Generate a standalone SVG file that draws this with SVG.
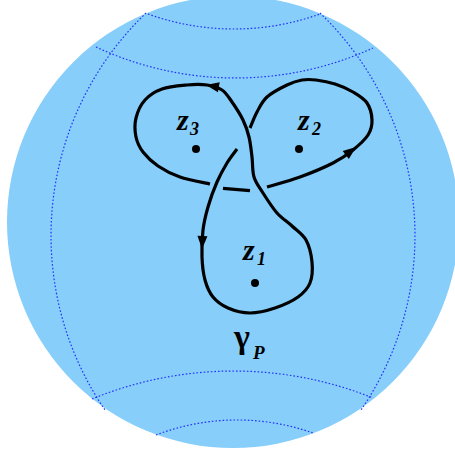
<svg xmlns="http://www.w3.org/2000/svg" width="455" height="455" viewBox="0 0 455 455">
<style>
.grid{fill:none;stroke:#2233ff;stroke-width:1.2;stroke-dasharray:1.6 2}
.curve{fill:none;stroke:#000;stroke-width:3.2;stroke-linecap:butt;stroke-linejoin:round}
.lbl{font-family:"Liberation Serif","Times New Roman",serif;font-style:italic;font-weight:bold;fill:#000}
.dot{fill:#000}
</style>
<defs>
<path id="ah" d="M0,0 L-13,-5 L-13,5 Z" fill="#000"/>
</defs>
<g id="sphere">
<circle cx="233" cy="222" r="226" fill="#87CEFA"/>
<path class="grid" d="M320,13 A308.5,308.5 0 0 1 361,410"/>
<path class="grid" d="M146,13 A308.5,308.5 0 0 0 105,410"/>
<path class="grid" d="M148,14 A254,254 0 0 0 320,14"/>
<path class="grid" d="M96,47 A330,330 0 0 0 373,48"/>
<path class="grid" d="M92,399 A373,373 0 0 1 373,398"/>
<path class="grid" d="M156,435 A227,227 0 0 1 313,433"/>
</g>
<g id="connectors">
<path class="curve" d="M267,187 C272.5,185.3 289,181 300,177 C311,173 324.2,167.5 333,163 C341.8,158.5 347.2,154.7 353,150 C358.8,145.3 364.8,140 368,135 C371.2,130 372.2,125.3 372,120 C371.8,114.7 370.2,107.7 367,103 C363.8,98.3 358.3,95.2 353,92 C347.7,88.8 341.2,86 335,84 C328.8,82 321.5,80.7 316,80 C310.5,79.3 306.8,79.2 302,80 C297.2,80.8 292.8,82.2 287,85 C281.2,87.8 272,92.5 267,97 C262,101.5 259.8,106.8 257,112 C254.2,117.2 251.2,125.3 250,128"/>
<path class="curve" d="M237,149 C235.3,151.3 230.3,157.5 227,163 C223.7,168.5 220.2,174.7 217,182 C213.8,189.3 210.3,199 208,207 C205.7,215 204,221.7 203,230 C202,238.3 201.7,248.7 202,257 C202.3,265.3 203.2,273.3 205,280 C206.8,286.7 209.2,292.3 213,297 C216.8,301.7 221.8,305.3 228,308 C234.2,310.7 242.2,313 250,313 C257.8,313 267,310.7 275,308 C283,305.3 292.2,301.2 298,297 C303.8,292.8 307.7,288.8 310,283 C312.3,277.2 312.7,269.2 312,262 C311.3,254.8 309.3,246 306,240 C302.7,234 296.8,230.5 292,226 C287.2,221.5 281.8,218.5 277,213 C272.2,207.5 266.8,199 263,193 C259.2,187 255.8,183 254,177 C252.2,171 252.8,163.7 252,157 C251.2,150.3 250.5,143.2 249,137 C247.5,130.8 245.8,125.8 243,120 C240.2,114.2 235.5,107 232,102 C228.5,97 226.2,92.8 222,90 C217.8,87.2 212.8,85.8 207,85 C201.2,84.2 194.5,84.3 187,85 C179.5,85.7 169,86.5 162,89 C155,91.5 149.3,95.2 145,100 C140.7,104.8 137.5,111.8 136,118 C134.5,124.2 134.8,131.3 136,137 C137.2,142.7 139.3,147.2 143,152 C146.7,156.8 151.8,161.8 158,166 C164.2,170.2 171.3,174 180,177 C188.7,180 205,182.8 210,184"/>
<path class="curve" d="M223,188.3 L250,190.7"/>
<use href="#ah" transform="translate(206,85) rotate(190)"/>
<use href="#ah" transform="translate(356,147) rotate(-38)"/>
<use href="#ah" transform="translate(202,249) rotate(92)"/>
</g>
<g id="z3">
<circle class="dot" cx="196" cy="149" r="4"/>
<text class="lbl" x="177" y="130" font-size="30">z</text>
<text class="lbl" x="190" y="135" font-size="18">3</text>
</g>
<g id="z2">
<circle class="dot" cx="299" cy="149" r="4"/>
<text class="lbl" x="298" y="130" font-size="30">z</text>
<text class="lbl" x="312" y="135" font-size="18">2</text>
</g>
<g id="z1">
<circle class="dot" cx="255" cy="283" r="4"/>
<text class="lbl" x="243" y="260" font-size="30">z</text>
<text class="lbl" x="257" y="265" font-size="18">1</text>
</g>
<g id="gamma">
<text x="234" y="348" font-family="Liberation Serif,'Times New Roman',serif" font-weight="bold" font-size="34" fill="#000">γ</text>
<text class="lbl" x="253" y="359" font-size="19">P</text>
</g>
</svg>
